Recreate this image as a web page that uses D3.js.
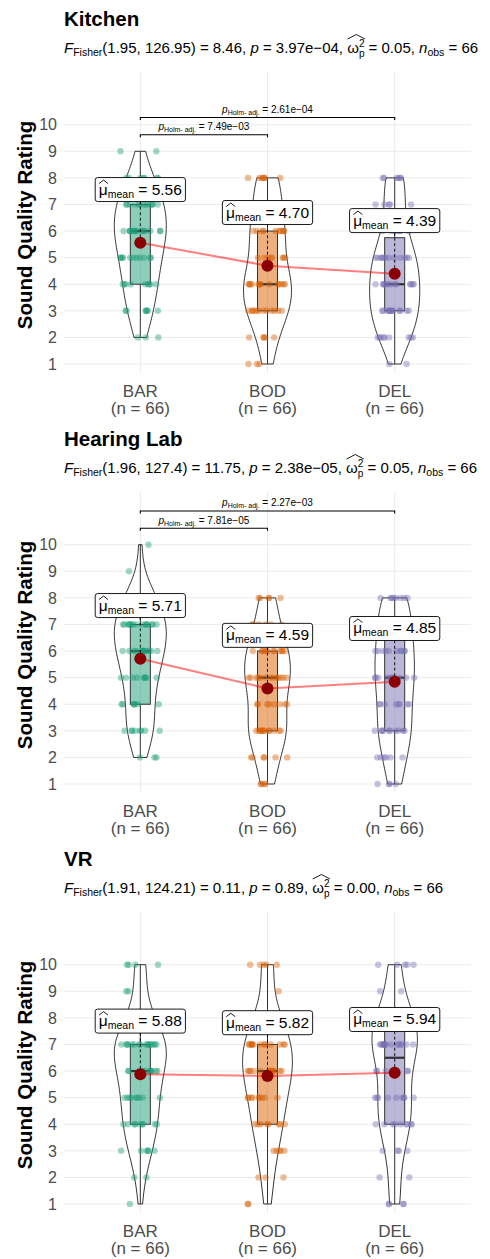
<!DOCTYPE html>
<html>
<head>
<meta charset="utf-8">
<script src="https://cdn.jsdelivr.net/npm/d3@7"></script>
<style>
  body { margin: 0; background: #fff; }
  text { font-family: "Liberation Sans", Arial, Helvetica, sans-serif; }
</style>
</head>
<body>
<div id="chart"></div>
<script>
'use strict';

// ---- data ----
var conditions = ['BAR', 'BOD', 'DEL'];
var groupSizes = [66, 66, 66];
var ratingTicks = [1, 2, 3, 4, 5, 6, 7, 8, 9, 10];
var panelTitles = ['Kitchen', 'Hearing Lab', 'VR'];

// number of ratings 1..10 given to each condition
var kitchenCounts = [
  [0, 3, 7, 9, 11, 14, 13, 7, 2, 0],
  [3, 5, 12, 14, 8, 10, 7, 7, 0, 0],
  [2, 9, 13, 13, 12, 6, 5, 6, 0, 0]
];
var hearingLabCounts = [
  [0, 3, 8, 7, 9, 13, 15, 9, 1, 1],
  [4, 6, 12, 8, 13, 12, 6, 5, 0, 0],
  [4, 6, 10, 8, 11, 10, 9, 8, 0, 0]
];
var vrCounts = [
  [1, 2, 6, 9, 9, 11, 16, 6, 2, 4],
  [2, 3, 5, 8, 9, 13, 13, 7, 1, 5],
  [4, 2, 4, 9, 9, 5, 15, 11, 2, 5]
];

// repeated measures ANOVA results
var fisherDf1 = [1.95, 1.96, 1.91];
var fisherDf2 = [126.95, 127.4, 124.21];
var fisherF = [8.46, 11.75, 0.11];
var fisherP = [3.97e-4, 2.38e-5, 0.89];
var omegaP = [0.05, 0.05, 0.00];
var nObs = [66, 66, 66];

// Holm adjusted pairwise comparisons shown
var kitchenPairs = [['BAR', 'BOD', 7.49e-3], ['BAR', 'DEL', 2.61e-4]];
var hearingLabPairs = [['BAR', 'BOD', 7.81e-5], ['BAR', 'DEL', 2.27e-3]];
var vrPairs = [];

var palette = ['#1B9E77', '#D95F02', '#7570B3'];

// ---- layout ----
var width = 490, height = 1259, panelHeight = 420;
var plotLeft = 64, plotRight = 471, plotTop = 72, plotBottom = 373;
var maxHalfViolin = 26, boxHalf = 10, jitterHalf = 20;

var x = d3.scalePoint().domain(conditions).range([plotLeft, plotRight]).padding(0.6);
var y = d3.scaleLinear().domain([1, 10]).range([364, 124.7]);

var svg = d3.select('#chart').append('svg')
  .attr('width', width)
  .attr('height', height);

function fmtP(p) {
  if (p < 0.01) {
    var s = p.toExponential(2).split('e');
    var ex = parseInt(s[1], 10);
    var exs = (ex < 0 ? '\u2212' : '+') + (Math.abs(ex) < 10 ? '0' : '') + Math.abs(ex);
    return s[0] + 'e' + exs;
  }
  return p.toFixed(2);
}

function expand(counts) {
  var out = [];
  counts.forEach(function(c, i) {
    for (var k = 0; k < c; k++) out.push(ratingTicks[i]);
  });
  return out;
}

// fixed scatter offset in [0,1) for jitter, same on every run
function spread(a, b, c) {
  var v = Math.sin(a * 12.9898 + b * 78.233 + c * 37.719) * 43758.5453;
  return v - Math.floor(v);
}

// gaussian kde with R's nrd0 bandwidth, trimmed to data range
function kde(values) {
  var n = values.length;
  var sd = d3.deviation(values);
  var iqr = d3.quantile(values, 0.75) - d3.quantile(values, 0.25);
  var bw = 0.9 * Math.min(sd, iqr / 1.34) * Math.pow(n, -0.2);
  var ext = d3.extent(values);
  return d3.range(0, 121).map(function(i) {
    var v = ext[0] + (ext[1] - ext[0]) * i / 120;
    var s = d3.sum(values, function(d) {
      var u = (v - d) / bw;
      return Math.exp(-0.5 * u * u);
    });
    return [v, s / (n * bw * Math.sqrt(2 * Math.PI))];
  });
}

// draws a sequence of text runs, returns end x
function drawRuns(g, x0, y0, runs) {
  var cx = x0;
  runs.forEach(function(r) {
    r.x0 = cx;
    if (r.stack) {
      var a = g.append('text').attr('x', cx).attr('y', y0 - r.size * 0.62)
        .attr('font-size', r.size).text(r.stack[0]);
      var b = g.append('text').attr('x', cx).attr('y', y0 + r.size * 0.38)
        .attr('font-size', r.size).text(r.stack[1]);
      cx += Math.max(a.node().getComputedTextLength(), b.node().getComputedTextLength());
    } else {
      var t = g.append('text').attr('x', cx).attr('y', y0 + (r.shift || 0))
        .attr('font-size', r.size).text(r.text);
      if (r.italic) t.attr('font-style', 'italic');
      cx += t.node().getComputedTextLength();
    }
    r.x1 = cx;
  });
  return cx;
}

function hat(g, xa, xb, yBase, yPeak) {
  g.append('path')
    .attr('d', 'M' + xa + ',' + yBase + 'L' + ((xa + xb) / 2) + ',' + yPeak + 'L' + xb + ',' + yBase)
    .attr('fill', 'none')
    .attr('stroke', '#000')
    .attr('stroke-width', 0.9);
}

function drawPanel(idx, counts, pairs) {
  var panel = svg.append('g').attr('transform', 'translate(0,' + idx * panelHeight + ')');
  var groups = counts.map(expand);

  // title + subtitle
  panel.append('text').attr('x', 64).attr('y', 26)
    .attr('font-size', 20.5).attr('font-weight', 'bold').text(panelTitles[idx]);

  var sub = panel.append('g');
  var S = 15, s = 10.5, sh = 3.2, nb = '\u00A0';
  var runs = [
    {text: 'F', size: S, italic: true},
    {text: 'Fisher', size: s, shift: sh},
    {text: '(' + fisherDf1[idx] + ',' + nb + fisherDf2[idx] + ')' + nb + '=' + nb + fisherF[idx].toFixed(2) + ',' + nb, size: S},
    {text: 'p', size: S, italic: true},
    {text: nb + '=' + nb + fmtP(fisherP[idx]) + ',' + nb, size: S},
    {text: '\u03C9', size: S},
    {stack: ['2', 'p'], size: 10},
    {text: nb + '=' + nb + omegaP[idx].toFixed(2) + ',' + nb, size: S},
    {text: 'n', size: S, italic: true},
    {text: 'obs', size: s, shift: sh},
    {text: nb + '=' + nb + nObs[idx], size: S}
  ];
  drawRuns(sub, 64, 53, runs);
  hat(sub, runs[5].x0 + 0.5, runs[6].x1 + 0.5, 53 - 14, 53 - 18.5);

  // grid
  var grid = panel.append('g');
  grid.selectAll('line.h').data(ratingTicks).enter().append('line')
    .attr('x1', plotLeft).attr('x2', plotRight)
    .attr('y1', function(d) { return y(d); }).attr('y2', function(d) { return y(d); })
    .attr('stroke', '#EBEBEB').attr('stroke-width', 1);
  grid.selectAll('line.v').data(conditions).enter().append('line')
    .attr('x1', function(d) { return x(d); }).attr('x2', function(d) { return x(d); })
    .attr('y1', plotTop).attr('y2', plotBottom)
    .attr('stroke', '#EBEBEB').attr('stroke-width', 1);

  // axes text
  panel.selectAll('text.ytick').data(ratingTicks).enter().append('text')
    .attr('x', 57).attr('y', function(d) { return y(d); }).attr('dy', '0.36em')
    .attr('text-anchor', 'end').attr('font-size', 16).attr('fill', '#4D4D4D')
    .text(function(d) { return d; });
  conditions.forEach(function(c, i) {
    panel.append('text').attr('x', x(c)).attr('y', 396.5).attr('text-anchor', 'middle')
      .attr('font-size', 17).attr('fill', '#4D4D4D').text(c);
    panel.append('text').attr('x', x(c)).attr('y', 414).attr('text-anchor', 'middle')
      .attr('font-size', 17).attr('fill', '#4D4D4D').text('(n = ' + groupSizes[i] + ')');
  });
  panel.append('text')
    .attr('transform', 'translate(32,225) rotate(-90)')
    .attr('text-anchor', 'middle').attr('font-size', 20.5).attr('font-weight', 'bold')
    .text('Sound Quality Rating');

  // violins
  var dens = groups.map(kde);
  var maxD = d3.max(dens, function(d) { return d3.max(d, function(p) { return p[1]; }); });
  var w = d3.scaleLinear().domain([0, maxD]).range([0, maxHalfViolin]);
  dens.forEach(function(d, i) {
    var cx = x(conditions[i]);
    var area = d3.area()
      .y(function(p) { return y(p[0]); })
      .x0(function(p) { return cx - w(p[1]); })
      .x1(function(p) { return cx + w(p[1]); });
    panel.append('path').attr('d', area(d) + 'Z')
      .attr('fill', 'none').attr('stroke', '#000').attr('stroke-width', 0.8);
  });

  // boxplots
  groups.forEach(function(vals, i) {
    var cx = x(conditions[i]);
    var q1 = d3.quantile(vals, 0.25), q2 = d3.quantile(vals, 0.5), q3 = d3.quantile(vals, 0.75);
    var iqr = q3 - q1;
    var lo = d3.min(vals.filter(function(v) { return v >= q1 - 1.5 * iqr; }));
    var hi = d3.max(vals.filter(function(v) { return v <= q3 + 1.5 * iqr; }));
    var bx = panel.append('g');
    bx.append('line').attr('x1', cx).attr('x2', cx).attr('y1', y(hi)).attr('y2', y(q3))
      .attr('stroke', '#333').attr('stroke-width', 1);
    bx.append('line').attr('x1', cx).attr('x2', cx).attr('y1', y(q1)).attr('y2', y(lo))
      .attr('stroke', '#333').attr('stroke-width', 1);
    bx.append('rect').attr('x', cx - boxHalf).attr('width', boxHalf * 2)
      .attr('y', y(q3)).attr('height', y(q1) - y(q3))
      .attr('fill', palette[i]).attr('fill-opacity', 0.5)
      .attr('stroke', '#333').attr('stroke-width', 1);
    bx.append('line').attr('x1', cx - boxHalf).attr('x2', cx + boxHalf)
      .attr('y1', y(q2)).attr('y2', y(q2))
      .attr('stroke', '#333').attr('stroke-width', 2.2);
  });

  // jittered points
  groups.forEach(function(vals, i) {
    var cx = x(conditions[i]);
    panel.append('g').selectAll('circle').data(vals).enter().append('circle')
      .attr('cx', function(d, k) {
        var u = spread(k + 1, i + 1, idx + 1);
        return cx + (u * 2 - 1) * jitterHalf;
      })
      .attr('cy', function(d) { return y(d); })
      .attr('r', 3.2)
      .attr('fill', palette[i]).attr('fill-opacity', 0.42);
  });

  // mean path and points
  var means = groups.map(function(v) { return d3.mean(v); });
  var line = d3.line()
    .x(function(d, i) { return x(conditions[i]); })
    .y(function(d) { return y(d); });
  panel.append('path').attr('d', line(means))
    .attr('fill', 'none').attr('stroke', 'red').attr('stroke-opacity', 0.5).attr('stroke-width', 2);

  means.forEach(function(m, i) {
    var cx = x(conditions[i]);
    var ly = y(m + 2);
    panel.append('line').attr('x1', cx).attr('x2', cx).attr('y1', y(m)).attr('y2', ly + 12)
      .attr('stroke', '#000').attr('stroke-width', 0.9).attr('stroke-dasharray', '3,2.5');
  });
  panel.selectAll('circle.mean').data(means).enter().append('circle')
    .attr('cx', function(d, i) { return x(conditions[i]); })
    .attr('cy', function(d) { return y(d); })
    .attr('r', 6).attr('fill', '#8B0000');

  // mean labels
  means.forEach(function(m, i) {
    var cx = x(conditions[i]);
    var ly = y(m + 2);
    var lab = panel.append('g');
    var lr = [
      {text: '\u03BC', size: 15.5},
      {text: 'mean', size: 10.5, shift: 3},
      {text: '\u00A0=\u00A0' + m.toFixed(2), size: 15.5}
    ];
    var end = drawRuns(lab, 0, 0, lr);
    hat(lab, lr[0].x0 + 0.3, lr[0].x1 + 0.3, -11, -14.5);
    var pad = 3.6;
    lab.insert('rect', ':first-child')
      .attr('x', -pad).attr('y', -17).attr('width', end + pad * 2).attr('height', 24)
      .attr('rx', 2.5).attr('fill', '#fff').attr('stroke', '#000').attr('stroke-width', 0.9);
    lab.attr('transform', 'translate(' + (cx - end / 2) + ',' + (ly + 5) + ')');
  });

  // significance brackets
  var top = d3.max(groups, function(v) { return d3.max(v); });
  pairs.forEach(function(p, j) {
    var yy = y(top + 0.62 + 0.65 * j);
    var xa = x(p[0]), xb = x(p[1]);
    panel.append('path')
      .attr('d', 'M' + xa + ',' + (yy + 2.5) + 'V' + yy + 'H' + xb + 'V' + (yy + 2.5))
      .attr('fill', 'none').attr('stroke', '#000').attr('stroke-width', 1.1);
    var lg = panel.append('g');
    var pr = [
      {text: 'p', size: 10, italic: true},
      {text: 'Holm- adj.', size: 7, shift: 2},
      {text: '\u00A0=\u00A0' + fmtP(p[2]), size: 10}
    ];
    var e = drawRuns(lg, 0, 0, pr);
    lg.attr('transform', 'translate(' + ((xa + xb) / 2 - e / 2) + ',' + (yy - 4.5) + ')');
  });
}

drawPanel(0, kitchenCounts, kitchenPairs);
drawPanel(1, hearingLabCounts, hearingLabPairs);
drawPanel(2, vrCounts, vrPairs);
</script>
</body>
</html>
